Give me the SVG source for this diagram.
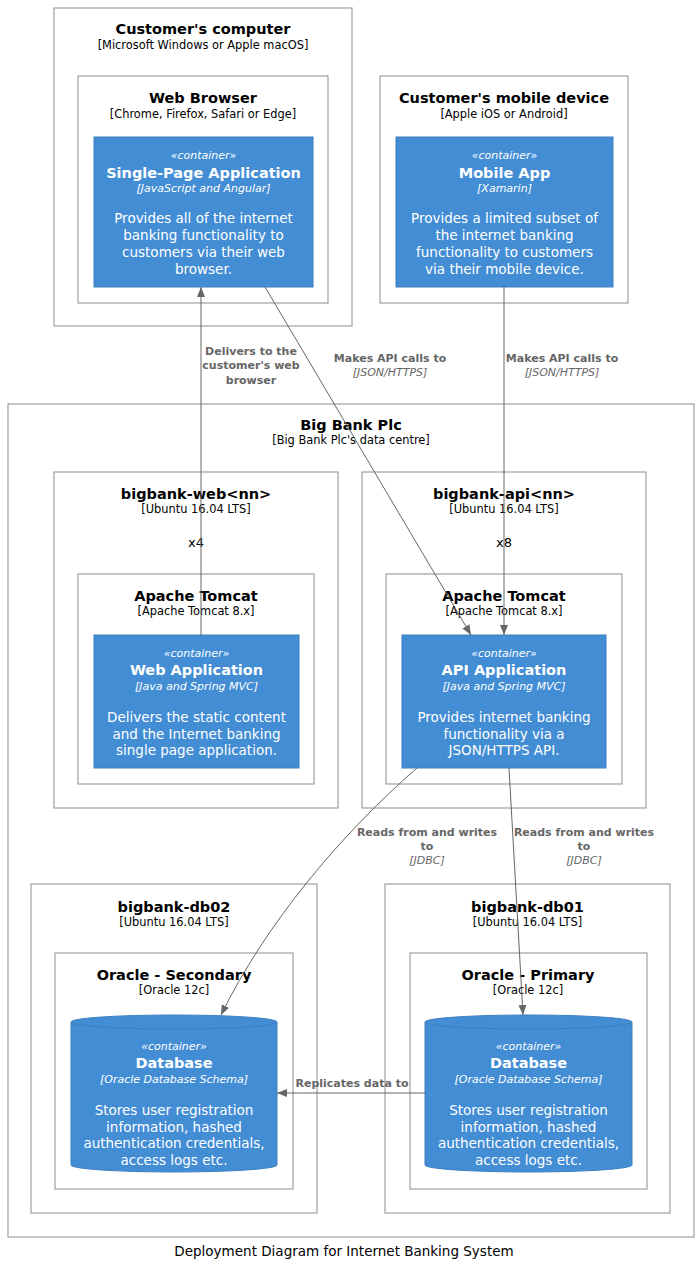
<svg xmlns="http://www.w3.org/2000/svg" width="700" height="1263" viewBox="0 0 700 1263">
<style>
text{font-family:"DejaVu Sans","Open Sans",sans-serif;text-anchor:middle}
.bnd{fill:none;stroke:#A0A0A0;stroke-width:1.2}
.ct{fill:#438DD5;stroke:#3C7FC0;stroke-width:1}
.bt{font-size:14.5px;font-weight:bold;fill:#000}
.bs{font-size:11.4px;font-weight:normal;fill:#000}
.st{font-size:11px;font-style:italic;fill:#fff}
.nt{font-size:14.5px;font-weight:bold;font-style:normal;fill:#fff}
.tt{font-size:11px;font-style:italic;font-weight:normal;fill:#fff}
.dt{font-size:13.5px;font-style:normal;font-weight:normal;fill:#fff}
.el{font-size:11px;font-weight:bold;fill:#666}
.et{font-size:11px;font-style:italic;font-weight:normal;fill:#666}
.cn{fill:none;stroke:#666;stroke-width:1}
</style>
<defs>
<marker id="ah" viewBox="0 0 10 10" refX="10" refY="5" markerWidth="10" markerHeight="10" markerUnits="userSpaceOnUse" orient="auto">
<path d="M0,1 L10,5 L0,9 Z" fill="#666"/>
</marker>
</defs>
<rect width="700" height="1263" fill="#fff"/>

<g id="customer-computer">
<rect class="bnd" x="54" y="8" width="298" height="318"/>
<text class="bt" x="203" y="34">Customer's computer</text>
<text class="bs" x="203" y="49">[Microsoft Windows or Apple macOS]</text>
</g>
<g id="web-browser">
<rect class="bnd" x="78" y="76" width="250" height="227"/>
<text class="bt" x="203" y="103">Web Browser</text>
<text class="bs" x="203" y="118">[Chrome, Firefox, Safari or Edge]</text>
</g>
<g id="spa">
<rect class="ct" x="94" y="137" width="219" height="150"/>
<text class="st" x="203.5" y="159">«container»</text>
<text class="nt" x="203.5" y="178">Single-Page Application</text>
<text class="tt" x="203.5" y="192">[JavaScript and Angular]</text>
<text class="dt" x="203.5" y="223">Provides all of the internet<tspan x="203.5" y="240">banking functionality to</tspan><tspan x="203.5" y="257">customers via their web</tspan><tspan x="203.5" y="274">browser.</tspan></text>
</g>

<g id="customer-mobile">
<rect class="bnd" x="380" y="76" width="248" height="227"/>
<text class="bt" x="504" y="103">Customer's mobile device</text>
<text class="bs" x="504" y="118">[Apple iOS or Android]</text>
</g>
<g id="mobile-app">
<rect class="ct" x="396" y="137" width="217" height="150"/>
<text class="st" x="504.5" y="159">«container»</text>
<text class="nt" x="504.5" y="178">Mobile App</text>
<text class="tt" x="504.5" y="192">[Xamarin]</text>
<text class="dt" x="504.5" y="223">Provides a limited subset of<tspan x="504.5" y="240">the internet banking</tspan><tspan x="504.5" y="257">functionality to customers</tspan><tspan x="504.5" y="274">via their mobile device.</tspan></text>
</g>

<g id="big-bank">
<rect class="bnd" x="8" y="404" width="686" height="833"/>
<text class="bt" x="351" y="430">Big Bank Plc</text>
<text class="bs" x="351" y="444">[Big Bank Plc's data centre]</text>
</g>

<g id="bigbank-web">
<rect class="bnd" x="54" y="472" width="284" height="336"/>
<text class="bt" x="196" y="499">bigbank-web&lt;nn&gt;</text>
<text class="bs" x="196" y="513">[Ubuntu 16.04 LTS]</text>
<text x="196" y="547" style="font-size:13px;fill:#000">x4</text>
</g>
<g id="tomcat-web">
<rect class="bnd" x="78" y="574" width="236" height="210"/>
<text class="bt" x="196" y="601">Apache Tomcat</text>
<text class="bs" x="196" y="615">[Apache Tomcat 8.x]</text>
</g>
<g id="web-app">
<rect class="ct" x="94" y="635" width="205" height="133"/>
<text class="st" x="196.5" y="657">«container»</text>
<text class="nt" x="196.5" y="675">Web Application</text>
<text class="tt" x="196.5" y="690">[Java and Spring MVC]</text>
<text class="dt" x="196.5" y="722">Delivers the static content<tspan x="196.5" y="739">and the Internet banking</tspan><tspan x="196.5" y="755">single page application.</tspan></text>
</g>

<g id="bigbank-api">
<rect class="bnd" x="362" y="472" width="284" height="336"/>
<text class="bt" x="504" y="499">bigbank-api&lt;nn&gt;</text>
<text class="bs" x="504" y="513">[Ubuntu 16.04 LTS]</text>
<text x="504" y="547" style="font-size:13px;fill:#000">x8</text>
</g>
<g id="tomcat-api">
<rect class="bnd" x="386" y="574" width="236" height="210"/>
<text class="bt" x="504" y="601">Apache Tomcat</text>
<text class="bs" x="504" y="615">[Apache Tomcat 8.x]</text>
</g>
<g id="api-app">
<rect class="ct" x="402" y="635" width="204" height="133"/>
<text class="st" x="504" y="657">«container»</text>
<text class="nt" x="504" y="675">API Application</text>
<text class="tt" x="504" y="690">[Java and Spring MVC]</text>
<text class="dt" x="504" y="722">Provides internet banking<tspan x="504" y="739">functionality via a</tspan><tspan x="504" y="755">JSON/HTTPS API.</tspan></text>
</g>

<g id="bigbank-db02">
<rect class="bnd" x="31" y="884" width="286" height="329"/>
<text class="bt" x="174" y="912">bigbank-db02</text>
<text class="bs" x="174" y="926">[Ubuntu 16.04 LTS]</text>
</g>
<g id="oracle-secondary">
<rect class="bnd" x="55" y="953" width="238" height="236"/>
<text class="bt" x="174" y="980">Oracle - Secondary</text>
<text class="bs" x="174" y="994">[Oracle 12c]</text>
</g>
<g id="db-secondary">
<path class="ct" d="M71,1022 A103,7 0 0,1 277,1022 L277,1165 A103,7 0 0,1 71,1165 Z"/>
<path d="M71,1022 A103,7 0 0,0 277,1022" fill="none" stroke="#3C7FC0"/>
<text class="st" x="174" y="1050">«container»</text>
<text class="nt" x="174" y="1068">Database</text>
<text class="tt" x="174" y="1083">[Oracle Database Schema]</text>
<text class="dt" x="174" y="1115">Stores user registration<tspan x="174" y="1132">information, hashed</tspan><tspan x="174" y="1148">authentication credentials,</tspan><tspan x="174" y="1165">access logs etc.</tspan></text>
</g>

<g id="bigbank-db01">
<rect class="bnd" x="385" y="884" width="285" height="329"/>
<text class="bt" x="527.5" y="912">bigbank-db01</text>
<text class="bs" x="527.5" y="926">[Ubuntu 16.04 LTS]</text>
</g>
<g id="oracle-primary">
<rect class="bnd" x="410" y="953" width="237" height="236"/>
<text class="bt" x="528" y="980">Oracle - Primary</text>
<text class="bs" x="528" y="994">[Oracle 12c]</text>
</g>
<g id="db-primary">
<path class="ct" d="M425,1022 A103.5,7 0 0,1 632,1022 L632,1165 A103.5,7 0 0,1 425,1165 Z"/>
<path d="M425,1022 A103.5,7 0 0,0 632,1022" fill="none" stroke="#3C7FC0"/>
<text class="st" x="528.5" y="1050">«container»</text>
<text class="nt" x="528.5" y="1068">Database</text>
<text class="tt" x="528.5" y="1083">[Oracle Database Schema]</text>
<text class="dt" x="528.5" y="1115">Stores user registration<tspan x="528.5" y="1132">information, hashed</tspan><tspan x="528.5" y="1148">authentication credentials,</tspan><tspan x="528.5" y="1165">access logs etc.</tspan></text>
</g>

<g id="connectors">
<path class="cn" d="M201,635 L201,287" marker-end="url(#ah)"/>
<text class="el" x="251" y="355">Delivers to the<tspan x="251" y="369">customer's web</tspan><tspan x="251" y="384">browser</tspan></text>

<path class="cn" d="M265,287 L471,635" marker-end="url(#ah)"/>
<text class="el" x="390" y="362">Makes API calls to</text>
<text class="et" x="390" y="376">[JSON/HTTPS]</text>

<path class="cn" d="M504,287 L504,635" marker-end="url(#ah)"/>
<text class="el" x="562" y="362">Makes API calls to</text>
<text class="et" x="562" y="376">[JSON/HTTPS]</text>

<path class="cn" d="M417,768 C340,835 265,925 221,1015" marker-end="url(#ah)"/>
<text class="el" x="427" y="836">Reads from and writes<tspan x="427" y="850">to</tspan></text>
<text class="et" x="427" y="864">[JDBC]</text>

<path class="cn" d="M509,768 L523,1015" marker-end="url(#ah)"/>
<text class="el" x="584" y="836">Reads from and writes<tspan x="584" y="850">to</tspan></text>
<text class="et" x="584" y="864">[JDBC]</text>

<path class="cn" d="M425,1093 L277,1093" marker-end="url(#ah)"/>
<text class="el" x="352" y="1087">Replicates data to</text>
</g>

<text x="344" y="1256" style="font-size:13.5px;fill:#000">Deployment Diagram for Internet Banking System</text>
</svg>
